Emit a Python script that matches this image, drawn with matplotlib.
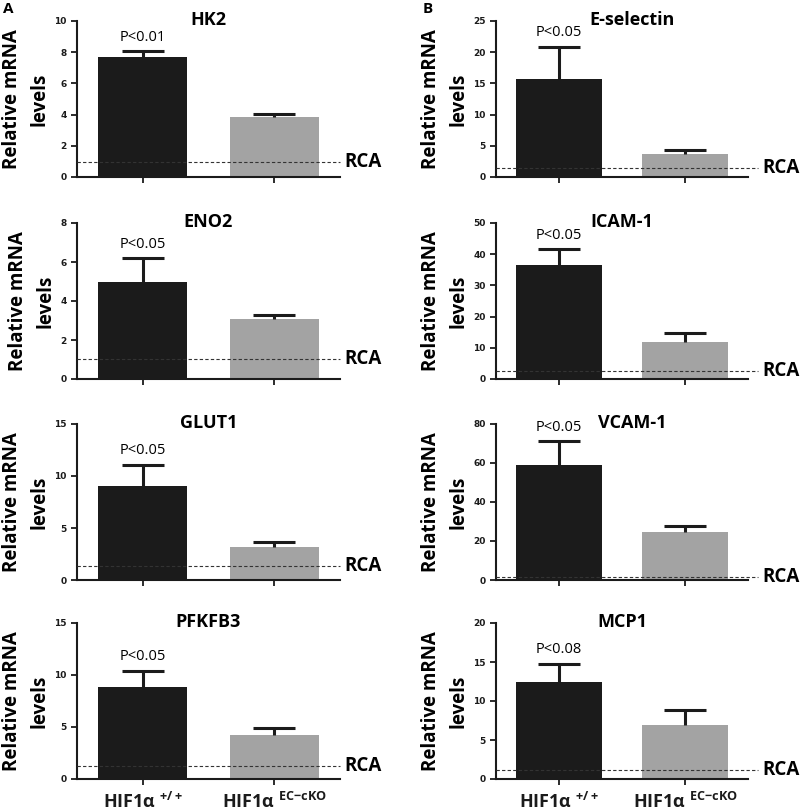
#!/usr/bin/env python3
import numpy as np
import matplotlib
matplotlib.use("Agg")
import matplotlib.pyplot as plt

plt.rcParams['font.family'] = ['Open Sans', 'DejaVu Sans']

# left column (A) then right column (B)
genes = ['HK2', 'ENO2', 'GLUT1', 'PFKFB3', 'E-selectin', 'ICAM-1', 'VCAM-1', 'MCP1']
wt_mean = [7.72, 4.95, 9.06, 8.87, 15.77, 36.6, 58.9, 12.48]
wt_err = [0.36, 1.23, 2.04, 1.56, 5.13, 5.0, 12.2, 2.29]
ko_mean = [3.82, 3.07, 3.18, 4.24, 3.64, 11.9, 24.6, 6.89]
ko_err = [0.22, 0.22, 0.45, 0.68, 0.70, 3.0, 3.3, 1.98]
rca = [0.93, 1.04, 1.32, 1.21, 1.4, 2.5, 1.7, 1.17]
pvals = ['P<0.01', 'P<0.05', 'P<0.05', 'P<0.05', 'P<0.05', 'P<0.05', 'P<0.05', 'P<0.08']
ymax = [10, 8, 15, 15, 25, 50, 80, 20]
ystep = [2, 2, 5, 5, 5, 10, 20, 5]
groups = ['HIF1α $\\mathregular{^{+/+}}$', 'HIF1α $\\mathregular{^{EC{-}cKO}}$']

W, H = 800, 810
fig = plt.figure(figsize=(W / 100, H / 100), dpi=100)

col_left = [77, 496]
col_width = [263, 252]
dash_end = [1.0, 1.04]
row_bottom = [177, 379, 580, 779]
ax_h = 156

for i, g in enumerate(genes):
	col = i // 4
	row = i % 4
	x0 = col_left[col] / W
	y0 = 1 - row_bottom[row] / H
	ax = fig.add_axes([x0, y0, col_width[col] / W, ax_h / H])

	xs = np.arange(2)
	ax.bar(xs, [wt_mean[i], ko_mean[i]], width=0.68, color=['#1b1b1b', '#a3a3a3'], zorder=2)
	for x, m, e in zip(xs, [wt_mean[i], ko_mean[i]], [wt_err[i], ko_err[i]]):
		_, caps, _ = ax.errorbar(x, m, yerr=[[0], [e]], color='#1b1b1b', elinewidth=2.2,
								 capsize=15, capthick=2.2, zorder=3)
		caps[0].set_visible(False)  # only the upper cap

	ax.axhline(rca[i], xmin=0, xmax=dash_end[col], color='#333333', lw=0.8, ls=(0, (3, 2)),
			   clip_on=False, zorder=4)
	ax.annotate('RCA', xy=(dash_end[col], rca[i]), xycoords=('axes fraction', 'data'),
				xytext=(3, 0), textcoords='offset points', ha='left', va='center',
				fontsize=13.5, fontweight='bold', annotation_clip=False)

	ax.annotate(pvals[i], xy=(0, wt_mean[i] + wt_err[i]), xytext=(0, 10),
				textcoords='offset points', ha='center', va='center', fontsize=10.5)

	ax.set_xlim(-0.5, 1.5)
	ax.set_ylim(0, ymax[i])
	ax.set_yticks(np.arange(0, ymax[i] + 0.1, ystep[i]))
	ax.set_xticks(xs)
	if row == 3:
		ax.set_xticklabels(groups, fontsize=13, fontweight='bold')
	else:
		ax.set_xticklabels([])
	for lab in ax.get_yticklabels():
		lab.set_fontfamily('DejaVu Sans')
		lab.set_fontweight('bold')
		lab.set_fontsize(6.5)
	ax.tick_params(axis='both', direction='out', length=4, width=1.3, colors='#1b1b1b')
	ax.tick_params(axis='x', pad=5)
	for s in ['top', 'right']:
		ax.spines[s].set_visible(False)
	for s in ['left', 'bottom']:
		ax.spines[s].set_linewidth(1.5)
		ax.spines[s].set_color('#1b1b1b')

	t = ax.set_title(g, fontsize=13, fontweight='bold', y=1.0, pad=-3)
	if g in ('VCAM-1', 'E-selectin'):
		t.set_x(0.54)  # sits a bit right of centre in the original
	ax.set_ylabel('Relative mRNA\nlevels', fontsize=13.5, fontweight='bold', labelpad=3.5,
				  linespacing=1.5)

fig.text(3 / W, 1 - 9 / H, 'A', fontsize=11, fontweight='bold', va='center')
fig.text(423 / W, 1 - 9 / H, 'B', fontsize=11, fontweight='bold', va='center')

fig.savefig('out.png', dpi=100)
